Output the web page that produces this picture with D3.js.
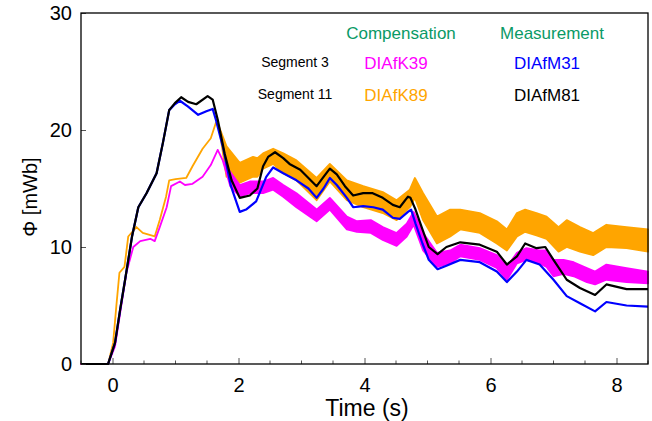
<!DOCTYPE html>
<html>
<head>
<meta charset="utf-8">
<script src="https://cdn.jsdelivr.net/npm/d3@7"></script>
<style>
  body { margin: 0; background: #fff; }
  svg text { font-family: "Liberation Sans", Arial, Helvetica, sans-serif; }
</style>
</head>
<body>
<svg></svg>
<script>
// black: DIAfM81 (measurement, segment 11)
const m81Time = [-0.5, -0.07, 0.04, 0.12, 0.2, 0.31, 0.41, 0.54, 0.7, 0.8, 0.9, 0.99, 1.09, 1.2, 1.33, 1.51, 1.59, 1.67, 1.78, 1.89, 2.02, 2.18, 2.3, 2.39, 2.47, 2.58, 2.71, 2.81, 2.98, 3.11, 3.24, 3.35, 3.45, 3.56, 3.69, 3.82, 3.98, 4.13, 4.29, 4.45, 4.56, 4.69, 4.73, 4.81, 4.92, 5.02, 5.16, 5.3, 5.52, 5.83, 6.1, 6.26, 6.42, 6.55, 6.73, 6.87, 7.0, 7.21, 7.42, 7.66, 7.84, 8.16, 8.5];
const m81Flux = [0, 0, 1.8, 4.6, 7.2, 10.9, 13.4, 14.6, 16.3, 18.9, 21.7, 22.3, 22.8, 22.4, 22.2, 22.9, 22.6, 20.9, 18.0, 15.7, 14.2, 14.4, 15.0, 16.9, 17.7, 18.1, 17.6, 17.1, 16.6, 15.9, 15.2, 16.0, 16.7, 16.2, 15.2, 14.4, 14.6, 14.6, 14.2, 13.6, 13.4, 14.3, 14.2, 13.2, 11.5, 10.0, 9.4, 10.0, 10.4, 10.2, 9.6, 8.5, 9.2, 10.3, 9.9, 10.0, 8.9, 7.2, 6.5, 5.9, 6.8, 6.4, 6.4];

// blue: DIAfM31 (measurement, segment 3)
const m31Time = [-0.5, -0.07, 0.04, 0.12, 0.2, 0.31, 0.41, 0.54, 0.7, 0.8, 0.9, 0.99, 1.07, 1.2, 1.36, 1.49, 1.59, 1.64, 1.75, 1.88, 2.02, 2.12, 2.28, 2.44, 2.55, 2.71, 2.92, 3.11, 3.24, 3.35, 3.45, 3.56, 3.72, 3.82, 3.98, 4.14, 4.29, 4.45, 4.56, 4.69, 4.74, 4.81, 4.92, 5.02, 5.16, 5.3, 5.52, 5.83, 6.1, 6.26, 6.42, 6.57, 6.78, 7.0, 7.21, 7.42, 7.66, 7.84, 8.16, 8.5];
const m31Flux = [0, 0, 1.8, 4.6, 7.2, 10.9, 13.4, 14.6, 16.3, 18.9, 21.7, 22.2, 22.5, 22.0, 21.3, 21.6, 21.8, 20.9, 18.6, 15.2, 13.0, 13.2, 13.9, 16.0, 16.8, 16.3, 15.7, 15.0, 14.2, 15.0, 15.9, 15.3, 14.2, 13.4, 13.5, 13.4, 13.2, 12.5, 12.4, 13.0, 13.2, 12.0, 10.3, 8.9, 8.1, 8.4, 8.9, 8.7, 7.9, 7.0, 7.9, 8.9, 8.5, 7.2, 5.8, 5.2, 4.5, 5.3, 5.0, 4.9];

// orange: DIAfK89 (compensation, segment 11) - noisy, kept as upper/lower envelope
const k89Time = [-0.5, -0.07, 0.01, 0.06, 0.11, 0.19, 0.25, 0.38, 0.48, 0.67, 0.75, 0.85, 0.9, 1.0, 1.17, 1.27, 1.43, 1.56, 1.64, 1.69, 1.81, 2.02, 2.23, 2.3, 2.39, 2.55, 2.71, 2.92, 3.24, 3.45, 3.72, 3.98, 4.29, 4.51, 4.72, 4.8, 4.93, 5.15, 5.36, 5.52, 5.83, 6.1, 6.26, 6.42, 6.55, 6.73, 6.89, 7.08, 7.21, 7.42, 7.63, 7.84, 8.16, 8.5];
const k89High = [0, 0, 1.8, 4.9, 7.8, 8.3, 10.9, 11.7, 11.2, 10.9, 12.3, 14.3, 15.7, 15.8, 15.9, 16.9, 18.4, 19.3, 20.6, 20.3, 18.6, 17.2, 17.7, 17.6, 18.0, 18.4, 18.0, 17.4, 15.9, 17.1, 15.7, 15.2, 14.7, 14.0, 14.9, 15.9, 14.6, 12.6, 13.2, 13.2, 12.9, 12.2, 11.5, 12.9, 13.2, 12.9, 12.6, 11.7, 12.3, 11.7, 11.2, 11.9, 11.7, 11.5];
const k89Low  = [0, 0, 1.8, 4.9, 7.8, 8.3, 10.9, 11.7, 11.2, 10.9, 12.3, 14.3, 15.7, 15.8, 15.9, 16.9, 18.4, 19.3, 20.6, 20.3, 16.0, 15.5, 16.0, 16.0, 16.7, 17.1, 16.3, 15.7, 14.0, 15.6, 14.0, 13.4, 12.9, 12.3, 13.4, 14.2, 12.3, 10.3, 10.9, 11.5, 11.2, 10.3, 9.7, 10.9, 11.3, 11.0, 10.7, 9.6, 10.0, 9.6, 9.3, 10.0, 9.9, 9.6];

// magenta: DIAfK39 (compensation, segment 3) - noisy, kept as upper/lower envelope
const k39Time = [-0.5, -0.07, 0.04, 0.12, 0.22, 0.33, 0.44, 0.6, 0.67, 0.75, 0.86, 0.93, 1.07, 1.15, 1.27, 1.43, 1.56, 1.67, 1.75, 1.87, 2.02, 2.18, 2.39, 2.55, 2.71, 2.92, 3.24, 3.45, 3.72, 3.88, 4.1, 4.29, 4.51, 4.67, 4.78, 4.93, 5.15, 5.36, 5.52, 5.83, 6.1, 6.26, 6.42, 6.57, 6.78, 6.89, 7.0, 7.16, 7.32, 7.53, 7.66, 7.84, 8.16, 8.5];
const k39High = [0, 0, 1.5, 4.3, 7.8, 10.0, 10.5, 10.7, 10.5, 11.7, 13.4, 15.2, 15.6, 15.3, 15.4, 16.0, 17.0, 18.3, 17.4, 16.4, 15.3, 15.6, 15.6, 15.9, 15.3, 14.6, 13.2, 14.2, 12.6, 12.2, 12.3, 11.7, 11.2, 12.0, 13.0, 11.2, 9.5, 9.7, 10.2, 9.9, 9.3, 8.3, 9.5, 9.9, 9.7, 9.7, 8.9, 8.9, 8.7, 8.2, 7.9, 8.5, 8.2, 7.9];
const k39Low  = [0, 0, 1.5, 4.3, 7.8, 10.0, 10.5, 10.7, 10.5, 11.7, 13.4, 15.2, 15.6, 15.3, 15.4, 16.0, 17.0, 18.3, 17.4, 15.2, 14.3, 14.6, 14.6, 14.9, 14.3, 13.4, 12.2, 13.2, 11.5, 11.3, 11.2, 10.6, 10.1, 10.9, 11.9, 9.7, 8.3, 8.6, 9.2, 8.9, 8.2, 7.2, 8.6, 8.9, 8.6, 8.3, 7.5, 7.7, 7.5, 7.0, 6.8, 7.2, 7.0, 6.9];

const xTicks = [0, 2, 4, 6, 8];
const xMinorTicks = [-0.5, 0.5, 1, 1.5, 2.5, 3, 3.5, 4.5, 5, 5.5, 6.5, 7, 7.5, 8.5];
const yTicks = [0, 10, 20, 30];

const headers = ["Compensation", "Measurement"];
const rowLabels = ["Segment 3", "Segment 11"];
const seriesNames = [["DIAfK39", "DIAfM31"], ["DIAfK89", "DIAfM81"]];
const seriesColors = [["#ff00ff", "#0000ff"], ["#ffa500", "#000000"]];

const W = 652, H = 421;
const plot = {l: 81, r: 648, t: 13, b: 364};

var svg = d3.select('svg')
    .attr('width', W)
    .attr('height', H);

const scaleX = d3.scaleLinear().domain([-0.5, 8.5]).range([plot.l, plot.r]);
const scaleY = d3.scaleLinear().domain([0, 30]).range([plot.b, plot.t]);

function zip(t, v) { return t.map((d, i) => ({t: d, v: v[i]})); }
function zipBand(t, hi, lo) { return t.map((d, i) => ({t: d, hi: hi[i], lo: lo[i]})); }

var line = d3.line()
    .x(d => scaleX(d.t))
    .y(d => scaleY(d.v));

var band = d3.area()
    .x(d => scaleX(d.t))
    .y0(d => scaleY(d.lo))
    .y1(d => scaleY(d.hi));

const g = svg.append('g');

// noisy compensation signals as bands
[[zipBand(k89Time, k89High, k89Low), "#ffa500"],
 [zipBand(k39Time, k39High, k39Low), "#ff00ff"]].forEach(function(s) {
    g.append('path')
        .datum(s[0])
        .attr('d', band)
        .attr('fill', s[1])
        .attr('stroke', s[1])
        .attr('stroke-width', 1.8)
        .attr('stroke-linejoin', 'round');
});

// measurement lines
[[zip(m31Time, m31Flux), "#0000ff"],
 [zip(m81Time, m81Flux), "#000000"]].forEach(function(s) {
    g.append('path')
        .datum(s[0])
        .attr('d', line)
        .attr('fill', 'none')
        .attr('stroke', s[1])
        .attr('stroke-width', 2.2)
        .attr('stroke-linejoin', 'round');
});

// axes (ticks pointing inward)
var xAxis = d3.axisBottom(scaleX).tickValues(xTicks).tickSize(-6).tickPadding(14).tickFormat(d3.format('d'));
var xAxisG = svg.append('g')
    .attr('transform', `translate(0,${plot.b})`)
    .call(xAxis);
xAxisG.selectAll('.tick line').attr('stroke', '#555');
xAxisG.selectAll('.tick text').attr('font-size', 20).attr('fill', '#000');
xAxisG.select('.domain').remove();

svg.append('g').selectAll('line')
    .data(xMinorTicks)
    .join('line')
    .attr('x1', d => scaleX(d)).attr('x2', d => scaleX(d))
    .attr('y1', plot.b).attr('y2', plot.b - 3.5)
    .attr('stroke', '#555');

var yAxis = d3.axisLeft(scaleY).tickValues(yTicks).tickSize(-5).tickPadding(9);
var yAxisG = svg.append('g')
    .attr('transform', `translate(${plot.l},0)`)
    .call(yAxis);
yAxisG.selectAll('.tick line').attr('stroke', '#555');
yAxisG.selectAll('.tick text').attr('font-size', 20).attr('fill', '#000');
yAxisG.select('.domain').remove();

// frame
svg.append('rect')
    .attr('x', plot.l).attr('y', plot.t)
    .attr('width', plot.r - plot.l).attr('height', plot.b - plot.t)
    .attr('fill', 'none')
    .attr('stroke', '#000')
    .attr('stroke-width', 1.3);

// axis labels
svg.append('text')
    .attr('x', 367).attr('y', 416)
    .attr('text-anchor', 'middle')
    .attr('font-size', 23)
    .text('Time (s)');

svg.append('text')
    .attr('transform', 'translate(37,197) rotate(-90)')
    .attr('text-anchor', 'middle')
    .attr('font-size', 20)
    .text('Φ [mWb]');

// legend table
const colX = [396, 547];
headers.forEach(function(h, i) {
    svg.append('text')
        .attr('x', colX[i] + (i === 0 ? 5 : 5)).attr('y', 39)
        .attr('text-anchor', 'middle')
        .attr('font-size', 17)
        .attr('fill', '#0a9a66')
        .text(h);
});
const rowY = [69, 101];
rowLabels.forEach(function(r, j) {
    svg.append('text')
        .attr('x', 295).attr('y', rowY[j] - 2)
        .attr('text-anchor', 'middle')
        .attr('font-size', 14)
        .text(r);
    seriesNames[j].forEach(function(n, i) {
        svg.append('text')
            .attr('x', colX[i]).attr('y', rowY[j])
            .attr('text-anchor', 'middle')
            .attr('font-size', 17)
            .attr('fill', seriesColors[j][i])
            .text(n);
    });
});
</script>
</body>
</html>
